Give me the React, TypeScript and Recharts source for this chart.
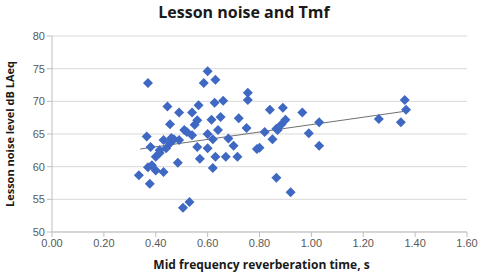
import React from 'react';
import { ScatterChart, Scatter, XAxis, YAxis, CartesianGrid, ReferenceLine, Label } from 'recharts';

const reverbTime: number[] = [
  0.37, 0.60, 0.585, 0.63, 0.755, 0.755, 0.565, 0.627, 0.66, 0.49,
  0.54, 0.445, 0.56, 0.55, 0.615, 0.65, 0.72, 0.75, 0.84, 0.89,
  0.965, 0.90, 0.885, 0.87, 0.82, 0.85, 0.99, 1.03, 0.52, 0.54,
  0.60, 0.64, 0.62, 0.68, 0.70, 0.56, 0.60, 0.79, 0.49, 0.57,
  0.63, 0.67, 0.715, 0.62, 0.485, 1.03, 1.26, 1.36, 1.365, 1.345,
  0.865, 0.92, 0.335, 0.377, 0.37, 0.40, 0.43, 0.385, 0.505, 0.53,
  0.415, 0.455, 0.365, 0.43, 0.47, 0.38, 0.415, 0.40, 0.44, 0.455,
  0.80, 0.51, 0.865, 0.46,
];
const noiseLevel: number[] = [
  72.8, 74.6, 72.8, 73.3, 71.3, 70.2, 69.4, 69.8, 70.1, 68.3,
  68.3, 69.2, 67.1, 66.4, 67.2, 67.6, 67.4, 65.9, 68.7, 69.0,
  68.3, 67.2, 66.5, 65.6, 65.3, 64.2, 65.1, 66.8, 65.3, 64.8,
  65.0, 65.6, 64.2, 64.3, 63.2, 63.0, 62.8, 62.7, 64.1, 61.2,
  61.5, 61.5, 61.5, 59.8, 60.6, 63.2, 67.3, 70.2, 68.7, 66.8,
  58.3, 56.1, 58.7, 57.4, 59.9, 59.4, 59.2, 60.2, 53.7, 54.6,
  62.5, 66.5, 64.6, 64.1, 64.2, 63.0, 62.1, 61.5, 62.8, 63.6,
  62.9, 65.6, 65.8, 64.4,
];
const xTicks: number[] = [0, 0.2, 0.4, 0.6, 0.8, 1.0, 1.2, 1.4, 1.6];
const yTicks: number[] = [50, 55, 60, 65, 70, 75, 80];
const trendX: number[] = [0.34, 1.365];
const trendY: number[] = [62.7, 68.5];

const points = reverbTime.map((x, i) => ({ x, y: noiseLevel[i] }));

const Diamond = (props: any) => {
  const { cx, cy } = props;
  if (cx == null || cy == null) return null;
  const r = 5;
  return (
    <polygon
      points={`${cx},${cy - r} ${cx + r},${cy} ${cx},${cy + r} ${cx - r},${cy}`}
      fill="#3E68C2"
    />
  );
};

const tickStyle = { fontFamily: 'Liberation Sans, Arial, sans-serif', fontSize: 11, fill: '#595959' };

export default function App() {
  return (
    <div style={{ position: 'absolute', left: 0, top: 0, width: 481, height: 274, background: '#fff' }}>
      <div
        style={{
          position: 'absolute',
          left: 0,
          top: 1,
          width: 488,
          textAlign: 'center',
          fontFamily: 'Open Sans, sans-serif',
          fontWeight: 700,
          fontSize: 16,
          color: '#1a1a1a',
        }}
      >
        Lesson noise and Tmf
      </div>
      <ScatterChart width={481} height={274} margin={{ top: 36, right: 14, bottom: 0, left: 0 }}>
        <CartesianGrid vertical={false} stroke="#d9d9d9" />
        <XAxis
          type="number"
          dataKey="x"
          domain={[0, 1.6]}
          ticks={xTicks}
          tickFormatter={(v: number) => v.toFixed(2)}
          height={42}
          stroke="#bfbfbf"
          tickSize={5}
          tick={tickStyle}
          interval={0}
        >
          <Label
            content={(p: any) => {
              const vb = p.viewBox;
              return (
                <text
                  x={vb.x + vb.width / 2 + 2}
                  y={vb.y + 37}
                  textAnchor="middle"
                  style={{ fontFamily: 'Open Sans, sans-serif', fontWeight: 700, fontSize: 12, fill: '#1a1a1a' }}
                >
                  Mid frequency reverberation time, s
                </text>
              );
            }}
          />
        </XAxis>
        <YAxis
          type="number"
          dataKey="y"
          domain={[50, 80]}
          ticks={yTicks}
          width={52}
          stroke="#bfbfbf"
          tickSize={5}
          tick={tickStyle}
          interval={0}
        >
          <Label
            content={(p: any) => {
              const vb = p.viewBox;
              const cx = 14;
              const cy = vb.y + vb.height / 2;
              return (
                <text
                  x={cx}
                  y={cy}
                  textAnchor="middle"
                  transform={`rotate(-90 ${cx} ${cy})`}
                  style={{ fontFamily: 'Open Sans, sans-serif', fontWeight: 700, fontSize: 11, fill: '#1a1a1a' }}
                >
                  Lesson noise level dB LAeq
                </text>
              );
            }}
          />
        </YAxis>
        <Scatter data={points} shape={<Diamond />} isAnimationActive={false} />
        <ReferenceLine
          segment={[
            { x: trendX[0], y: trendY[0] },
            { x: trendX[1], y: trendY[1] },
          ]}
          stroke="#707070"
          strokeWidth={1}
          ifOverflow="visible"
        />
      </ScatterChart>
    </div>
  );
}
